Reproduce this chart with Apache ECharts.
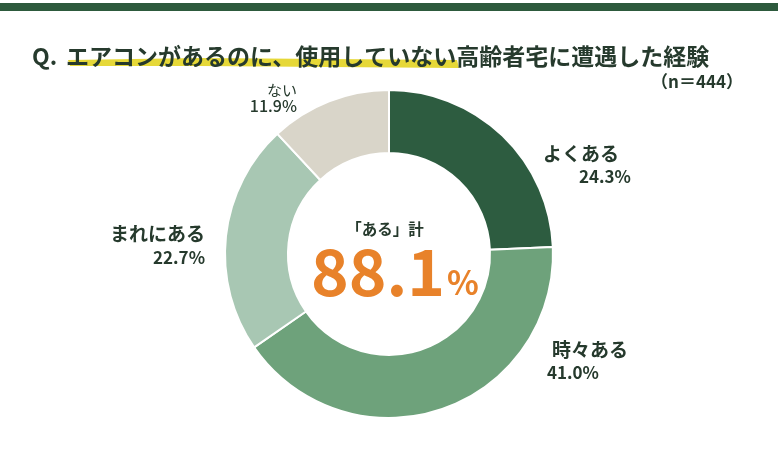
<!DOCTYPE html>
<html>
<head>
<meta charset="utf-8">
<script src="https://cdn.jsdelivr.net/npm/echarts@6/dist/echarts.min.js"></script>
<style>
html,body{margin:0;padding:0;background:#fff;}
#c{width:778px;height:449px;}
</style>
</head>
<body>
<div id="c"></div>
<script>
// ---- data ----
const categories = ['よくある', '時々ある', 'まれにある', 'ない'];
const values = [24.3, 41.0, 22.7, 11.9];
const sampleLabel = '（n＝444）';
const centerCaption = '「ある」計';
const centerTotal = 88.1;
const titlePrefix = 'Q.';
const titleText = 'エアコンがあるのに、使用していない高齢者宅に遭遇した経験';

// ---- styles ----
const colors = ['#2d5c40', '#6ea27b', '#a8c7b3', '#d9d5c9'];
const DARK = '#263a2d';
const FONT = '"Noto Sans CJK JP", "Noto Sans", sans-serif';

// label placement per slice: [x, y, blockAlign]
const labelPos = [
  [543, 165, 'left'],
  [547, 361, 'left'],
  [205, 246, 'right'],
  [297, 98, 'right']
];

const rich = {
  t0: {fontSize: 19, fontWeight: 'bold', color: DARK, lineHeight: 23, align: 'left', fontFamily: FONT},
  v0: {fontSize: 17, fontWeight: 'bold', color: DARK, lineHeight: 23, align: 'left', padding: [0, 0, 0, 36], fontFamily: FONT},
  t1: {fontSize: 19, fontWeight: 'bold', color: DARK, lineHeight: 23, align: 'left', padding: [0, 0, 0, 5], fontFamily: FONT},
  v1: {fontSize: 17, fontWeight: 'bold', color: DARK, lineHeight: 23, align: 'left', fontFamily: FONT},
  t2: {fontSize: 19, fontWeight: 'bold', color: DARK, lineHeight: 24, align: 'right', fontFamily: FONT},
  v2: {fontSize: 17, fontWeight: 'bold', color: DARK, lineHeight: 24, align: 'right', fontFamily: FONT},
  t3: {fontSize: 15, fontWeight: 'normal', color: DARK, lineHeight: 16, align: 'right', fontFamily: FONT},
  v3: {fontSize: 16, fontWeight: 500, color: DARK, lineHeight: 16, align: 'right', fontFamily: FONT}
};

const chart = echarts.init(document.getElementById('c'), null, {renderer: 'canvas'});

chart.setOption({
  animation: false,
  backgroundColor: '#ffffff',
  color: colors,
  graphic: [
    {type: 'rect', shape: {x: 0, y: 3, width: 778, height: 8}, style: {fill: '#2d5a3d'}, z: 1},
    {type: 'polygon', shape: {points: [[68, 60], [200, 58], [330, 59], [457, 60], [459, 68], [330, 67], [200, 66], [70, 66]]},
      style: {fill: '#e3d422', opacity: 0.9}, z: 1},
    {type: 'text', z: 5, style: {text: titlePrefix, x: 32, y: 56, align: 'left', verticalAlign: 'middle',
      fill: DARK, font: 'bold 23px ' + FONT}},
    {type: 'text', z: 5, style: {text: titleText, x: 66, y: 56, align: 'left', verticalAlign: 'middle',
      fill: DARK, font: 'bold 23px ' + FONT}},
    {type: 'text', z: 5, style: {text: sampleLabel, x: 743, y: 82, align: 'right', verticalAlign: 'middle',
      fill: DARK, font: 'bold 17px ' + FONT}},
    {type: 'text', z: 5, style: {text: centerCaption, x: 385, y: 229, align: 'center', verticalAlign: 'middle',
      fill: DARK, font: 'bold 15.5px ' + FONT}},
    {type: 'text', z: 5, style: {text: centerTotal.toFixed(1), x: 445, y: 272, align: 'right', verticalAlign: 'middle',
      fill: '#e8822a', font: 'bold 64px ' + FONT}},
    {type: 'text', z: 5, style: {text: '%', x: 447, y: 282, align: 'left', verticalAlign: 'middle',
      fill: '#e8822a', font: 'bold 33px ' + FONT}}
  ],
  series: [{
    type: 'pie',
    center: [389, 254],
    radius: [101, 164],
    startAngle: 90,
    clockwise: true,
    avoidLabelOverlap: false,
    itemStyle: {borderColor: '#ffffff', borderWidth: 2},
    emphasis: {disabled: true},
    label: {
      show: true,
      position: 'outside',
      fontFamily: FONT,
      formatter: function (p) {
        const i = p.dataIndex;
        return '{t' + i + '|' + p.name + '}\n{v' + i + '|' + p.value.toFixed(1) + '%}';
      },
      rich: rich
    },
    labelLine: {show: false},
    labelLayout: function (p) {
      const L = labelPos[p.dataIndex];
      return {x: L[0], y: L[1], align: L[2], verticalAlign: 'middle', hideOverlap: false};
    },
    data: categories.map(function (c, i) { return {name: c, value: values[i]}; })
  }]
});
</script>
</body>
</html>
